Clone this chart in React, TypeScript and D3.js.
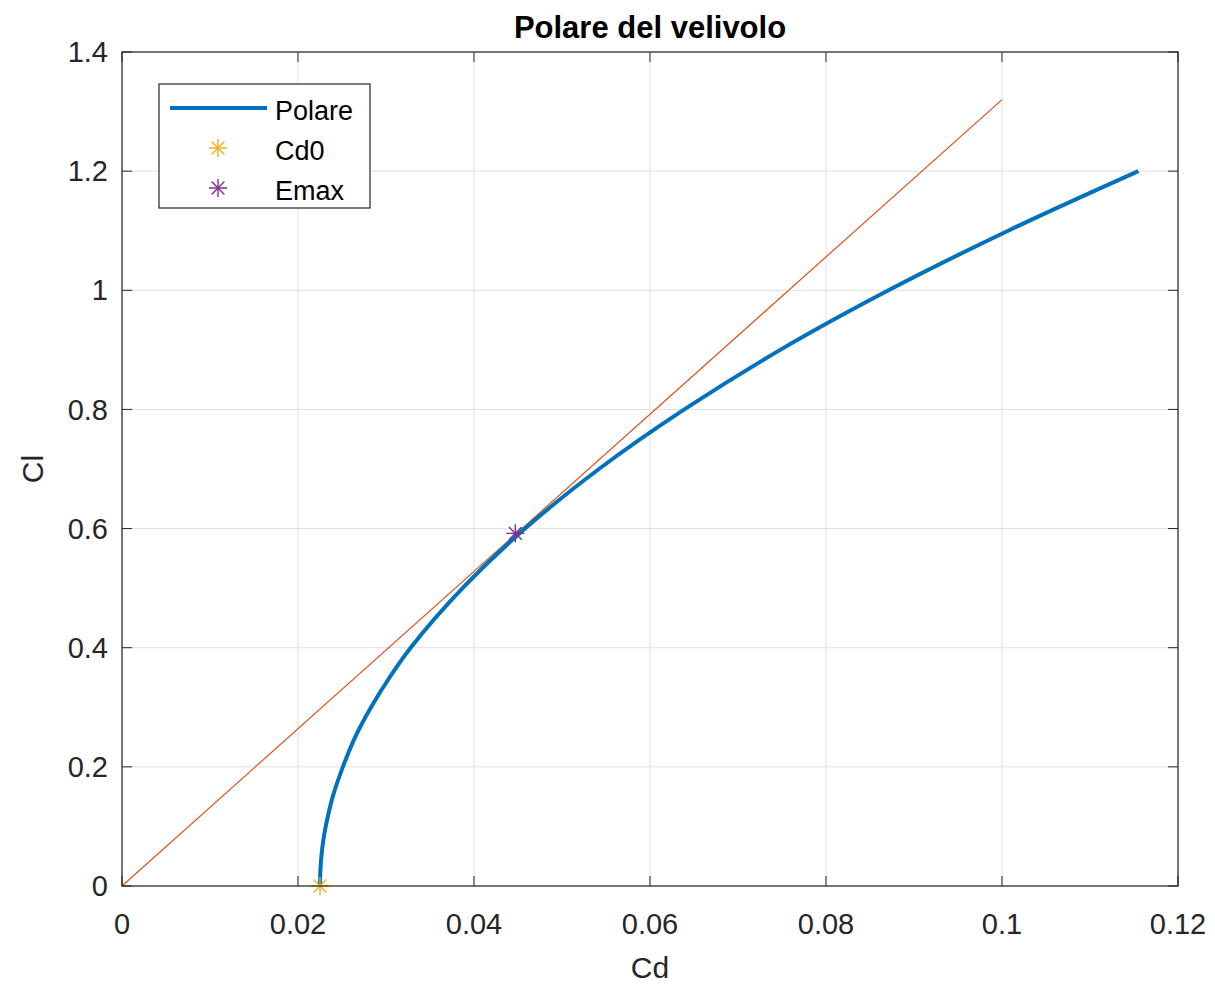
import { useEffect, useRef } from "react";
import * as d3 from "d3";

// Polare: Cl -> Cd
const polarCl = [
  0, 0.025, 0.05, 0.075, 0.1, 0.15, 0.2, 0.25, 0.3, 0.35, 0.4, 0.5, 0.6, 0.7, 0.8, 0.9, 1.0, 1.1,
  1.2,
];
const polarCd = [
  0.0225, 0.02254, 0.02266, 0.02286, 0.02315, 0.02395, 0.0251, 0.0265, 0.0283, 0.0304, 0.0328,
  0.0387, 0.0458, 0.0542, 0.0639, 0.0748, 0.0871, 0.1007, 0.1155,
];

// Retta tangente dall'origine
const tangentCd = [0, 0.1];
const tangentCl = [0, 1.32];

// Punti notevoli
const cd0Point = { cd: 0.0225, cl: 0 };
const emaxPoint = { cd: 0.0447, cl: 0.592 };

const xTicks = [0, 0.02, 0.04, 0.06, 0.08, 0.1, 0.12];
const yTicks = [0, 0.2, 0.4, 0.6, 0.8, 1, 1.2, 1.4];

const legendItems = [
  { label: "Polare", kind: "line", color: "#0072BD" },
  { label: "Cd0", kind: "star", color: "#EDB120" },
  { label: "Emax", kind: "star", color: "#7E2F8E" },
];

const W = 1215;
const H = 986;
const FONT = "'Liberation Sans', Arial, Helvetica, sans-serif";
const TEXT = "#262626";

export default function App() {
  const svgRef = useRef<SVGSVGElement>(null);

  useEffect(() => {
    if (!svgRef.current) return;
    const svg = d3.select(svgRef.current);
    svg.selectAll("*").remove();

    const margin = { top: 52, right: 37, bottom: 100, left: 122 };
    const x = d3.scaleLinear().domain([0, 0.12]).range([margin.left, W - margin.right]);
    const y = d3.scaleLinear().domain([0, 1.4]).range([H - margin.bottom, margin.top]);
    const [x0, x1] = x.range();
    const [y0, y1] = y.range();

    svg.append("rect").attr("width", W).attr("height", H).attr("fill", "#fff");

    // Griglia
    const grid = svg.append("g").attr("stroke", "#dfdfdf").attr("stroke-width", 1);
    grid
      .selectAll(".gx")
      .data(xTicks)
      .enter()
      .append("line")
      .attr("x1", (d) => x(d))
      .attr("x2", (d) => x(d))
      .attr("y1", y0)
      .attr("y2", y1);
    grid
      .selectAll(".gy")
      .data(yTicks)
      .enter()
      .append("line")
      .attr("x1", x0)
      .attr("x2", x1)
      .attr("y1", (d) => y(d))
      .attr("y2", (d) => y(d));

    // Tacche (interne, su tutti i lati)
    const tk = 10;
    const ticks = svg.append("g").attr("stroke", TEXT).attr("stroke-width", 1);
    xTicks.forEach((d) => {
      ticks.append("line").attr("x1", x(d)).attr("x2", x(d)).attr("y1", y0).attr("y2", y0 - tk);
      ticks.append("line").attr("x1", x(d)).attr("x2", x(d)).attr("y1", y1).attr("y2", y1 + tk);
    });
    yTicks.forEach((d) => {
      ticks.append("line").attr("x1", x0).attr("x2", x0 + tk).attr("y1", y(d)).attr("y2", y(d));
      ticks.append("line").attr("x1", x1).attr("x2", x1 - tk).attr("y1", y(d)).attr("y2", y(d));
    });

    // Etichette tacche
    svg
      .append("g")
      .selectAll("text")
      .data(xTicks)
      .enter()
      .append("text")
      .attr("x", (d) => x(d))
      .attr("y", y0 + 48)
      .attr("text-anchor", "middle")
      .style("font-family", FONT)
      .style("font-size", "29px")
      .style("fill", TEXT)
      .text((d) => String(d));

    svg
      .append("g")
      .selectAll("text")
      .data(yTicks)
      .enter()
      .append("text")
      .attr("x", x0 - 14)
      .attr("y", (d) => y(d))
      .attr("dy", "0.35em")
      .attr("text-anchor", "end")
      .style("font-family", FONT)
      .style("font-size", "29px")
      .style("fill", TEXT)
      .text((d) => String(d));

    // Linee dati
    const pts = polarCl.map((cl, i) => ({ cd: polarCd[i], cl }));
    const line = d3
      .line<{ cd: number; cl: number }>()
      .x((d) => x(d.cd))
      .y((d) => y(d.cl))
      .curve(d3.curveCatmullRom.alpha(0.5));

    const tangent = tangentCd.map((cd, i) => ({ cd, cl: tangentCl[i] }));
    svg
      .append("path")
      .datum(tangent)
      .attr("d", d3.line<{ cd: number; cl: number }>().x((d) => x(d.cd)).y((d) => y(d.cl)))
      .attr("fill", "none")
      .attr("stroke", "#D95319")
      .attr("stroke-width", 1.2);

    svg
      .append("path")
      .datum(pts)
      .attr("d", line)
      .attr("fill", "none")
      .attr("stroke", "#0072BD")
      .attr("stroke-width", 4);

    // Marcatori asterisco
    const star = (g: any, cx: number, cy: number, color: string) => {
      const s = g.append("g").attr("transform", `translate(${cx},${cy})`);
      s.append("path")
        .attr("d", d3.symbol(d3.symbolPlus, 110)())
        .attr("fill", "none")
        .attr("stroke", color)
        .attr("stroke-width", 1.4);
      s.append("path")
        .attr("d", d3.symbol(d3.symbolTimes, 110)())
        .attr("fill", "none")
        .attr("stroke", color)
        .attr("stroke-width", 1.4);
    };

    const marks = svg.append("g");
    star(marks, x(cd0Point.cd), y(cd0Point.cl), "#EDB120");
    star(marks, x(emaxPoint.cd), y(emaxPoint.cl), "#7E2F8E");

    // Box assi
    svg
      .append("rect")
      .attr("x", x0)
      .attr("y", y1)
      .attr("width", x1 - x0)
      .attr("height", y0 - y1)
      .attr("fill", "none")
      .attr("stroke", TEXT)
      .attr("stroke-width", 1.2);

    // Titolo e assi
    svg
      .append("text")
      .attr("x", (x0 + x1) / 2)
      .attr("y", 38)
      .attr("text-anchor", "middle")
      .style("font-family", FONT)
      .style("font-size", "31px")
      .style("font-weight", "bold")
      .style("fill", "#000")
      .text("Polare del velivolo");

    svg
      .append("text")
      .attr("x", (x0 + x1) / 2)
      .attr("y", y0 + 92)
      .attr("text-anchor", "middle")
      .style("font-family", FONT)
      .style("font-size", "30px")
      .style("fill", TEXT)
      .text("Cd");

    svg
      .append("text")
      .attr("transform", `translate(43,${(y0 + y1) / 2}) rotate(-90)`)
      .attr("text-anchor", "middle")
      .style("font-family", FONT)
      .style("font-size", "30px")
      .style("fill", TEXT)
      .text("Cl");

    // Legenda
    const lg = svg.append("g").attr("transform", "translate(159,84)");
    lg.append("rect")
      .attr("width", 211)
      .attr("height", 124)
      .attr("fill", "#fff")
      .attr("stroke", TEXT)
      .attr("stroke-width", 1.2);
    legendItems.forEach((item, i) => {
      const cy = 24 + i * 40;
      if (item.kind === "line") {
        lg.append("line")
          .attr("x1", 11)
          .attr("x2", 108)
          .attr("y1", cy)
          .attr("y2", cy)
          .attr("stroke", item.color)
          .attr("stroke-width", 4);
      } else {
        star(lg, 59, cy, item.color);
      }
      lg.append("text")
        .attr("x", 116)
        .attr("y", cy + 3)
        .attr("dy", "0.35em")
        .style("font-family", FONT)
        .style("font-size", "27px")
        .style("fill", "#000")
        .text(item.label);
    });
  }, []);

  return (
    <div style={{ position: "absolute", left: 0, top: 0, width: W, height: H }}>
      <svg ref={svgRef} width={W} height={H} style={{ display: "block" }} />
    </div>
  );
}
